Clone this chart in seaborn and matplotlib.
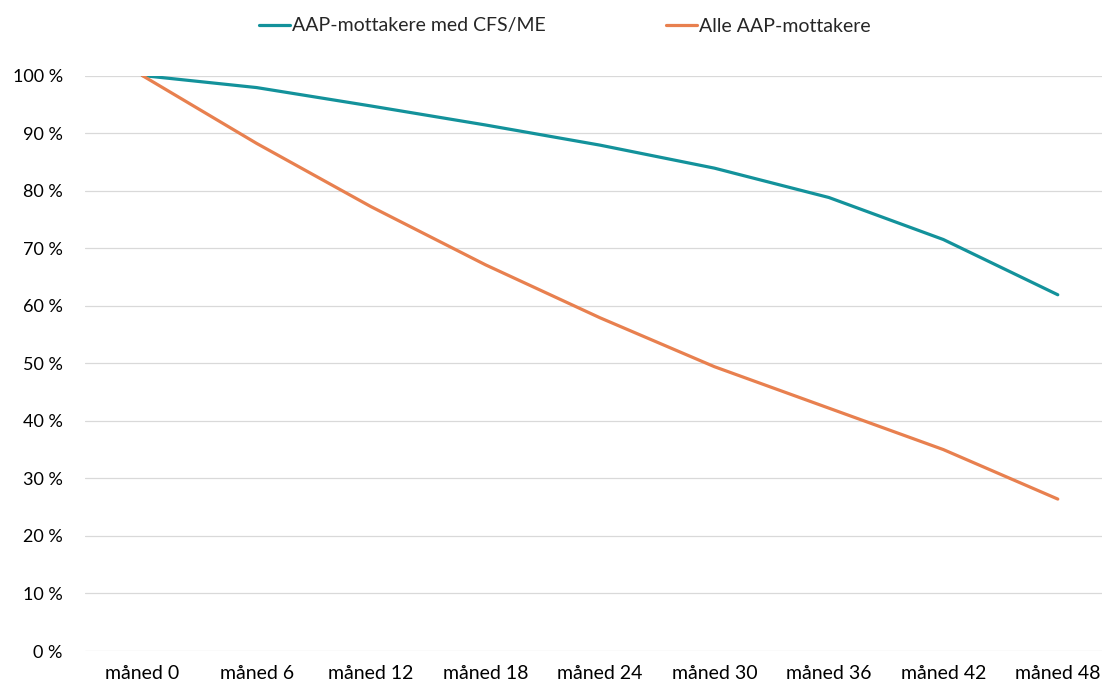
import pandas as pd
import seaborn as sns
import matplotlib.pyplot as plt
from matplotlib.ticker import FuncFormatter


MONTHS = [0, 6, 12, 18, 24, 30, 36, 42, 48]
MONTH_LABELS = [f"måned {m}" for m in MONTHS]
CFS_ME = [100.0, 97.9, 94.7, 91.4, 87.9, 83.9, 78.8, 71.5, 61.9]
ALL_AAP = [100.0, 88.2, 77.2, 67.1, 57.9, 49.4, 42.2, 35.0, 26.4]
SERIES_NAMES = ["AAP-mottakere med CFS/ME", "Alle AAP-mottakere"]
COLORS = ["#13929B", "#E8804F"]


def build_frame():
    rows = []
    for name, values in zip(SERIES_NAMES, [CFS_ME, ALL_AAP]):
        for m, v in zip(MONTHS, values):
            rows.append({"month": m, "share": v, "series": name})
    return pd.DataFrame(rows)


def main():
    sns.set_style("white")
    plt.rcParams["font.family"] = ["Lato", "DejaVu Sans"]

    df = build_frame()

    fig = plt.figure(figsize=(11.02, 6.86), dpi=100)
    ax = fig.add_axes([85 / 1102, 1 - 651 / 686, 1030 / 1102, 575.5 / 686])

    sns.lineplot(
        data=df, x="month", y="share", hue="series",
        palette=COLORS, linewidth=2.3, ax=ax, legend=False,
    )

    ax.set_xlim(-3, 51)
    ax.set_ylim(0, 100)
    ax.set_xticks(MONTHS)
    ax.set_xticklabels(MONTH_LABELS)
    ax.set_yticks(range(0, 101, 10))
    ax.yaxis.set_major_formatter(FuncFormatter(lambda v, _: f"{int(v)} %"))
    ax.tick_params(axis="both", length=0, colors="#000000")
    ax.tick_params(axis="y", pad=16, labelsize=13)
    ax.tick_params(axis="x", pad=10, labelsize=14)
    ax.grid(axis="y", color="#D9D9D9", linewidth=0.9)
    ax.set_axisbelow(True)
    ax.set_xlabel("")
    ax.set_ylabel("")
    for spine in ax.spines.values():
        spine.set_visible(False)

    handles = [plt.Line2D([], [], color=c, linewidth=2.3) for c in COLORS]
    fig.legend(
        handles, SERIES_NAMES, loc="center", bbox_to_anchor=(565 / 1102, 1 - 26 / 686),
        ncol=2, frameon=False, fontsize=14, handlelength=1.6,
        handletextpad=0.1, columnspacing=6.2,
    )

    fig.savefig("out.png", dpi=100)


if __name__ == "__main__":
    main()
